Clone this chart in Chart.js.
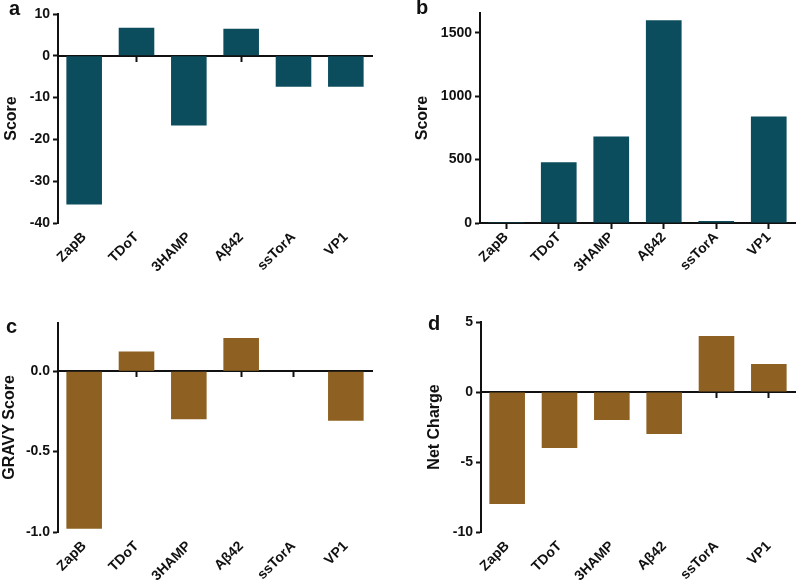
<!DOCTYPE html>
<html>
<head>
<meta charset="utf-8">
<script src="https://cdn.jsdelivr.net/npm/chart.js@4.4.1/dist/chart.umd.min.js"></script>
<style>
    body { margin: 0; background: #fff; }
    #wrap { position: relative; width: 797px; height: 585px; }
    .panel { position: absolute; }
    .tag { position: absolute; font: bold 20px "Liberation Sans", Arial, sans-serif; color: #111; }
</style>
</head>
<body>
<div id="wrap">
    <div class="panel" style="left:0;top:0;width:398px;height:295px"><canvas id="chartA"></canvas></div>
    <div class="panel" style="left:400px;top:0;width:397px;height:295px"><canvas id="chartB"></canvas></div>
    <div class="panel" style="left:0;top:300px;width:398px;height:285px"><canvas id="chartC"></canvas></div>
    <div class="panel" style="left:400px;top:300px;width:397px;height:285px"><canvas id="chartD"></canvas></div>
    <div class="tag" style="left:9px;top:-3px">a</div>
    <div class="tag" style="left:416px;top:-4px">b</div>
    <div class="tag" style="left:6px;top:315px">c</div>
    <div class="tag" style="left:428px;top:312px">d</div>
</div>
<script>
const proteins = ['ZapB', 'TDoT', '3HAMP', 'A\u03B242', 'ssTorA', 'VP1'];

const scoreA = [-35.6, 6.7, -16.7, 6.5, -7.4, -7.4];
const scoreB = [8, 479, 682, 1598, 15, 840];
const gravy = [-0.98, 0.122, -0.298, 0.207, 0, -0.308];
const netCharge = [-8, -4, -2, -3, 4, 2];

const ticksA = [-40, -30, -20, -10, 0, 10];
const ticksB = [0, 500, 1000, 1500];
const ticksC = [-1.0, -0.5, 0.0];
const ticksD = [-10, -5, 0, 5];

const teal = '#0b4c5d';
const brown = '#8e6021';

const font = { family: '"Liberation Sans", Arial, sans-serif', weight: 'bold', size: 14 };

// one panel, plot box given in canvas pixels
const makePanel = (id, values, color, yTitle, yMin, yMax, tickList, decimals, box) => {
    const el = document.getElementById(id);
    return new Chart(el, {
        type: 'bar',
        data: {
            labels: proteins,
            datasets: [{
                data: values,
                backgroundColor: color,
                barPercentage: 0.68,
                categoryPercentage: 1,
            }]
        },
        options: {
            responsive: true,
            maintainAspectRatio: false,
            animation: false,
            layout: { padding: { top: box.top, right: box.right, left: 0, bottom: 0 } },
            plugins: { legend: { display: false }, tooltip: { enabled: false } },
            scales: {
                x: {
                    position: 'bottom',
                    grid: { display: false, drawTicks: false },
                    border: { display: false },
                    ticks: { color: '#111', font: font, minRotation: 45, maxRotation: 45, padding: box.labelPad },
                    afterFit: (scale) => { scale.height = box.xHeight; }
                },
                x2: {
                    type: 'category',
                    position: { y: 0 },
                    offset: true,
                    grid: { display: true, offset: false, drawOnChartArea: false, tickLength: 5, tickWidth: 2, color: '#111' },
                    border: { display: true, width: 2, color: '#111' },
                    ticks: { display: false }
                },
                y: {
                    min: yMin,
                    max: yMax,
                    afterBuildTicks: (scale) => { scale.ticks = tickList.map(v => ({ value: v })); },
                    grid: { display: true, drawOnChartArea: false, tickLength: 5, tickWidth: 2, color: '#111' },
                    border: { display: true, width: 2, color: '#111' },
                    ticks: {
                        color: '#111', font: font, padding: 3,
                        callback: (v) => v.toFixed(decimals)
                    },
                    title: { display: true, text: yTitle, color: '#111', font: { family: font.family, weight: 'bold', size: 16 }, padding: { top: box.titlePad, bottom: 0 } },
                    afterFit: (scale) => { scale.width = box.left; }
                }
            }
        }
    });
};

makePanel('chartA', scoreA, teal, 'Score', -40, 10, ticksA, 0,
    { left: 58, top: 14, right: 26, xHeight: 72, labelPad: 6, titlePad: 2 });
makePanel('chartB', scoreB, teal, 'Score', 0, 1655, ticksB, 0,
    { left: 80, top: 13, right: 2, xHeight: 72, labelPad: 6, titlePad: 13 });
makePanel('chartC', gravy, brown, 'GRAVY Score', -1.0, 0.3, ticksC, 1,
    { left: 58, top: 23, right: 26, xHeight: 53, labelPad: 6, titlePad: 0 });
makePanel('chartD', netCharge, brown, 'Net Charge', -10, 5, ticksD, 0,
    { left: 81, top: 22, right: 2, xHeight: 53, labelPad: 6, titlePad: 25 });
</script>
</body>
</html>
